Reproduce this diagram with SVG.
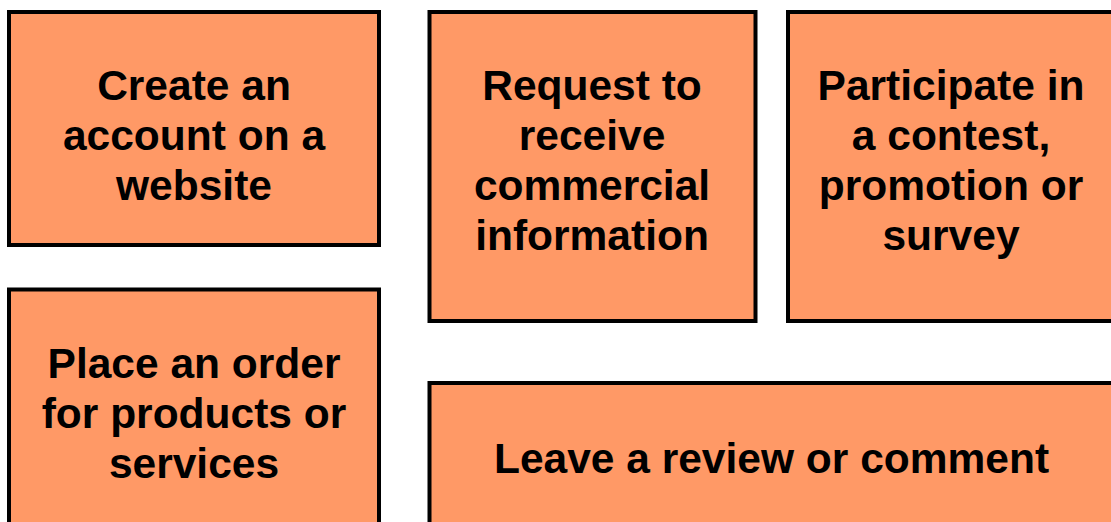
<svg xmlns="http://www.w3.org/2000/svg" width="1111" height="522" viewBox="0 0 1111 522">
<style>
.box{fill:#FF9966;stroke:#000;stroke-width:4}
.t{font-family:"Liberation Sans",Arial,sans-serif;font-weight:bold;font-size:42.5px;fill:#000;text-anchor:middle}
</style>
<rect width="1111" height="522" fill="#fff"/>
<g id="node-create-account">
<rect class="box" x="9" y="12" width="370" height="233"/>
<text class="t" x="194" y="100">Create an</text>
<text class="t" x="194" y="150">account on a</text>
<text class="t" x="194" y="200">website</text>
</g>
<g id="node-request-info">
<rect class="box" x="429.5" y="12" width="326" height="309"/>
<text class="t" x="592" y="100">Request to</text>
<text class="t" x="592" y="150">receive</text>
<text class="t" x="592" y="200">commercial</text>
<text class="t" x="592" y="250">information</text>
</g>
<g id="node-participate">
<rect class="box" x="788" y="12" width="326" height="309"/>
<text class="t" x="951" y="100">Participate in</text>
<text class="t" x="951" y="150">a contest,</text>
<text class="t" x="951" y="200">promotion or</text>
<text class="t" x="951" y="250">survey</text>
</g>
<g id="node-place-order">
<rect class="box" x="9" y="289.5" width="370" height="260"/>
<text class="t" x="194" y="378">Place an order</text>
<text class="t" x="194" y="428">for products or</text>
<text class="t" x="194" y="478">services</text>
</g>
<g id="node-review">
<rect class="box" x="429.5" y="383" width="685" height="170"/>
<text class="t" x="771.5" y="473">Leave a review or comment</text>
</g>
<g id="connectors"></g>
</svg>
